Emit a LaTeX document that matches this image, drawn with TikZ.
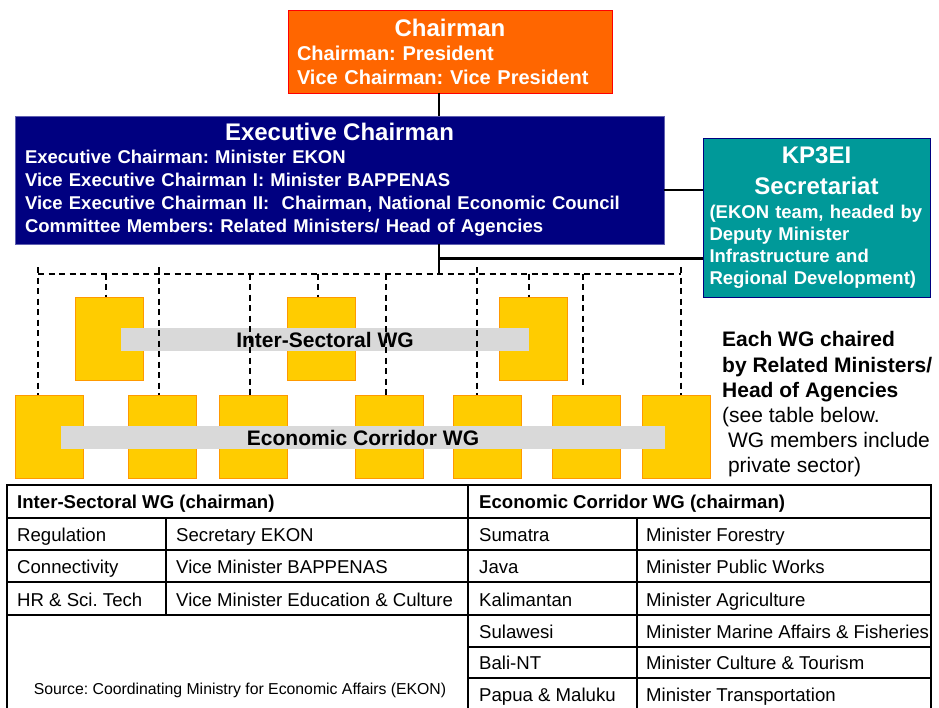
\documentclass[tikz,border=0pt]{standalone}
\usepackage{fontspec}
\setmainfont{Liberation Sans}
\frenchspacing

\definecolor{chairorange}{HTML}{FF6600}
\definecolor{chairedge}{HTML}{FF0000}
\definecolor{execblue}{HTML}{000080}
\definecolor{execedge}{HTML}{6060B0}
\definecolor{secrteal}{HTML}{009999}
\definecolor{wgyellow}{HTML}{FFCC00}
\definecolor{wgedge}{HTML}{FF9900}
\definecolor{bandgrey}{HTML}{D9D9D9}
\tikzstyle{box}=[
  draw,
  thin,
  text=white,
  align=left,
  inner ysep=0pt,
  ]
\tikzstyle{chair box}=[ box, draw=chairedge, fill=chairorange, text width=306pt, inner xsep=9pt, minimum height=83pt, font=\bfseries\fontsize{20}{24}\selectfont ]
\tikzstyle{exec box}=[ box, draw=execedge, fill=execblue, text width=629pt, inner xsep=10pt, minimum height=128pt, font=\bfseries\fontsize{18.5}{23}\selectfont ]
\tikzstyle{secr box}=[ box, draw=execblue, fill=secrteal, text width=214pt, inner xsep=6.5pt, minimum height=159pt, font=\bfseries\fontsize{18.5}{22}\selectfont ]
\tikzstyle{wg}=[ draw=wgedge, fill=wgyellow, minimum width=68pt, minimum height=83pt, inner sep=0pt ]
\tikzstyle{band}=[ fill=bandgrey, minimum height=23pt, inner sep=0pt, font=\bfseries\fontsize{21}{25}\selectfont ]
\tikzstyle{note}=[ anchor=north west, align=left, inner sep=0pt, font=\fontsize{21}{25.2}\selectfont ]
\tikzstyle{cell}=[ anchor=base west, inner sep=0pt, font=\fontsize{18.6}{22}\selectfont ]
\tikzstyle{head cell}=[ cell, font=\bfseries\fontsize{18.6}{22}\selectfont ]
\tikzstyle{source}=[ anchor=base, inner sep=0pt, font=\fontsize{15.8}{18}\selectfont ]
\tikzstyle{solid link}=[ line width=2.5pt ]
\tikzstyle{wg link}=[ line width=2pt, dash pattern=on 6pt off 4.5pt ]
\tikzstyle{grid}=[ line width=1.6pt ]

% centred heading line inside a left aligned box
\newcommand{\boxtitle}[1]{\hspace*{\fill}{\fontsize{24}{22}\selectfont #1}\hspace*{\fill}\null}

\begin{document}
\begin{tikzpicture}[x=1pt, y=-1pt]
    \clip (0,0) rectangle (939,707);

    \node[chair box] (chair) at (450,51.5) {\boxtitle{Chairman}\\ Chairman: President\\ Vice Chairman: Vice President};
    \node[exec box] (exec) at (339.5,180) {\boxtitle{Executive Chairman}\\ Executive Chairman: Minister EKON\\ Vice Executive Chairman I: Minister BAPPENAS\\ Vice Executive Chairman II:~ Chairman, National Economic Council\\ Committee Members: Related Ministers/ Head of Agencies};
    \node[secr box] (secr) at (816.5,217.5) {\boxtitle{KP3EI}\\[9pt] \boxtitle{Secretariat}\\[2pt] (EKON team, headed by\\ Deputy Minister\\ Infrastructure and\\ Regional Development)};

    \coordinate (hub) at (439,273.5);
    \coordinate (tap) at (439,258.5);
    \draw[solid link] (chair.south -| hub) -- (exec.north -| hub);
    \draw[solid link] (exec.south -| hub) -- (hub);
    \draw[solid link] (tap) -- (tap -| secr.west);
    \draw[solid link] ([yshift=-10pt]exec.east) -- ([yshift=-10pt]exec.east -| secr.west);

    % inter-sectoral working groups
    \node[wg] (is1) at (109,338.5) {};
    \node[wg] (is2) at (321,338.5) {};
    \node[wg] (is3) at (533.5,338.5) {};
    \node[band, minimum width=408pt] (is band) at (325,339.5) {Inter-Sectoral WG};

    % economic corridor working groups
    \node[wg] (ec1) at (49,436.5) {};
    \node[wg] (ec2) at (162.5,436.5) {};
    \node[wg] (ec3) at (253.5,436.5) {};
    \node[wg] (ec4) at (389,436.5) {};
    \node[wg] (ec5) at (487.5,436.5) {};
    \node[wg] (ec6) at (586.5,436.5) {};
    \node[wg] (ec7) at (676.5,436.5) {};
    \node[band, minimum width=604pt] (ec band) at (363,437.5) {Economic Corridor WG};

    \coordinate (bus west) at (38,273.5);
    \coordinate (bus east) at (681,273.5);
    \draw[wg link] (bus west) -- (bus east);

    \coordinate (s1) at (106,273.5);
    \coordinate (s2) at (318,273.5);
    \coordinate (s3) at (529,273.5);
    \draw[wg link] (s1) -- (s1 |- is1.north);
    \draw[wg link] (s2) -- (s2 |- is2.north);
    \draw[wg link] (s3) -- (s3 |- is3.north);

    \coordinate (c1) at (38,267);
    \coordinate (c2) at (159,267);
    \coordinate (c3) at (250,273.5);
    \coordinate (c4) at (386,273.5);
    \coordinate (c5) at (477,267);
    \coordinate (c6) at (583,273.5);
    \coordinate (c7) at (681,267);
    \draw[wg link] (c1) -- (c1 |- ec1.north);
    \draw[wg link] (c2) -- (c2 |- ec2.north);
    \draw[wg link] (c3) -- (c3 |- ec3.north);
    \draw[wg link] (c4) -- (c4 |- ec4.north);
    \draw[wg link] (c5) -- (c5 |- ec5.north);
    \draw[wg link] (c6) -- ([yshift=8pt]c6 |- ec6.north);
    \draw[wg link] (c7) -- (c7 |- ec7.north);

    \node[note] (note) at (722,331.5) {\textbf{Each WG chaired}\\ \textbf{by Related Ministers/}\\ \textbf{Head of Agencies}\\ (see table below.\\ ~WG members include\\ ~private sector)};

    % chairman table
    \draw[grid, line width=2.6pt] (7,485) rectangle (931,716);
    \draw[grid] (468,485) -- (468,716);
    \draw[grid] (166,518) -- (166,615);
    \draw[grid] (637,518) -- (637,716);
    \draw[grid] (7,518) -- (931,518);
    \draw[grid] (7,550) -- (931,550);
    \draw[grid] (7,582) -- (931,582);
    \draw[grid] (7,615) -- (931,615);
    \draw[grid] (468,647) -- (931,647);
    \draw[grid] (468,678) -- (931,678);

    \node[head cell] (is head) at (17,508.5) {Inter-Sectoral WG (chairman)};
    \node[cell] (reg) at (17,541) {Regulation};
    \node[cell] (reg chair) at (176,541) {Secretary EKON};
    \node[cell] (con) at (17,573) {Connectivity};
    \node[cell] (con chair) at (176,573) {Vice Minister BAPPENAS};
    \node[cell] (hr) at (17,606) {HR \& Sci. Tech};
    \node[cell] (hr chair) at (176,606) {Vice Minister Education \& Culture};

    \node[head cell] (ec head) at (479,508.5) {Economic Corridor WG (chairman)};
    \node[cell] (sum) at (479,541) {Sumatra};
    \node[cell] (sum chair) at (646,541) {Minister Forestry};
    \node[cell] (jav) at (479,573) {Java};
    \node[cell] (jav chair) at (646,573) {Minister Public Works};
    \node[cell] (kal) at (479,606) {Kalimantan};
    \node[cell] (kal chair) at (646,606) {Minister Agriculture};
    \node[cell] (sul) at (479,638) {Sulawesi};
    \node[cell] (sul chair) at (646,638) {Minister Marine Affairs \& Fisheries};
    \node[cell] (bal) at (479,669) {Bali-NT};
    \node[cell] (bal chair) at (646,669) {Minister Culture \& Tourism};
    \node[cell] (pap) at (479,701) {Papua \& Maluku};
    \node[cell] (pap chair) at (646,701) {Minister Transportation};

    \node[source] (source) at (240,694) {Source: Coordinating Ministry for Economic Affairs (EKON)};
  \end{tikzpicture}
\end{document}
